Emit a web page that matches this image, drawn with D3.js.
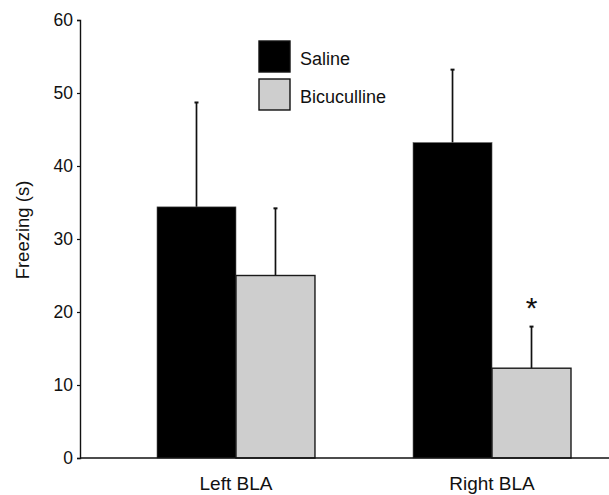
<!DOCTYPE html>
<html>
<head>
<meta charset="utf-8">
<script src="https://cdn.jsdelivr.net/npm/d3@7"></script>
<style>
  body { margin: 0; background: #fff; }
  text { font-family: "Liberation Sans", Arial, sans-serif; fill: #111; }
</style>
</head>
<body>
<div id="graph"></div>
<script>
// data
var regions = ["Left BLA", "Right BLA"];
var treatments = ["Saline", "Bicuculline"];
var saline = [34.4, 43.2];
var salineErr = [14.3, 10.0];
var bicuculline = [25.0, 12.3];
var bicucullineErr = [9.2, 5.7];
var significant = [false, true];   // star above bicuculline bar
var yTicks = [0, 10, 20, 30, 40, 50, 60];

var width = 609,
    height = 495;

var fills = { "Saline": "#000", "Bicuculline": "#cecece" };

var rows = [];
regions.forEach(function(r, i) {
    rows.push({ region: r, treat: "Saline", value: saline[i], err: salineErr[i], star: false });
    rows.push({ region: r, treat: "Bicuculline", value: bicuculline[i], err: bicucullineErr[i], star: significant[i] });
});

var x0 = d3.scaleBand()
    .domain(regions)
    .range([157, 571])
    .paddingInner(0.383);

var x1 = d3.scaleBand()
    .domain(treatments)
    .range([0, x0.bandwidth()]);

var y = d3.scaleLinear()
    .domain([0, 60])
    .range([458, 20]);

var svg = d3.select("#graph").append("svg")
    .attr("width", width)
    .attr("height", height);

// error bars (drawn first so bars cover the bottom part)
var err = svg.append("g")
    .attr("stroke", "#111")
    .attr("stroke-width", 1.7)
  .selectAll("g")
  .data(rows)
  .join("g")
    .attr("transform", d => `translate(${x0(d.region) + x1(d.treat) + x1.bandwidth() / 2},0)`);

err.append("line")
    .attr("y1", d => y(d.value))
    .attr("y2", d => y(d.value + d.err));

err.append("line")
    .attr("x1", -2).attr("x2", 2)
    .attr("y1", d => y(d.value + d.err))
    .attr("y2", d => y(d.value + d.err))
    .attr("stroke-width", 2);

// bars
svg.append("g")
  .selectAll("rect")
  .data(rows)
  .join("rect")
    .attr("x", d => x0(d.region) + x1(d.treat))
    .attr("y", d => y(d.value))
    .attr("width", x1.bandwidth())
    .attr("height", d => y(0) - y(d.value))
    .attr("fill", d => fills[d.treat])
    .attr("stroke", d => d.treat == "Saline" ? "#555" : "#1a1a1a")
    .attr("stroke-width", d => d.treat == "Saline" ? 0.6 : 1.4);

// significance star
svg.append("g")
  .selectAll("text")
  .data(rows.filter(d => d.star))
  .join("text")
    .attr("x", d => x0(d.region) + x1(d.treat) + x1.bandwidth() / 2)
    .attr("y", d => y(d.value + d.err) - 9)
    .attr("text-anchor", "middle")
    .style("font-size", "30px")
    .text("*");

// y axis
var yAxis = svg.append("g")
    .attr("transform", "translate(80,0)")
    .call(d3.axisLeft(y).tickValues(yTicks).tickSize(3).tickPadding(4));
yAxis.select(".domain").attr("stroke", "#111").attr("stroke-width", 1.4);
yAxis.selectAll(".tick line").attr("stroke", "#111").attr("stroke-width", 1.2);
yAxis.selectAll(".tick text").style("font-size", "17.5px");

// x axis, line runs to the right edge
svg.append("line")
    .attr("x1", 80).attr("x2", width)
    .attr("y1", y(0)).attr("y2", y(0))
    .attr("stroke", "#111")
    .attr("stroke-width", 1.4);

svg.append("g")
  .selectAll("text")
  .data(regions)
  .join("text")
    .attr("x", d => x0(d) + x0.bandwidth() / 2)
    .attr("y", 490)
    .attr("text-anchor", "middle")
    .style("font-size", "19px")
    .text(d => d);

svg.append("text")
    .attr("transform", "translate(29,230) rotate(-90)")
    .attr("text-anchor", "middle")
    .style("font-size", "18.5px")
    .text("Freezing (s)");

// legend
var legend = svg.append("g")
    .attr("transform", "translate(259,41)")
  .selectAll("g")
  .data(treatments)
  .join("g")
    .attr("transform", (d, i) => `translate(0,${i * 38})`);

legend.append("rect")
    .attr("width", 31)
    .attr("height", 31)
    .attr("fill", d => fills[d])
    .attr("stroke", "#111")
    .attr("stroke-width", 1.4);

legend.append("text")
    .attr("x", 41)
    .attr("y", 24)
    .style("font-size", "18px")
    .text(d => d);
</script>
</body>
</html>
